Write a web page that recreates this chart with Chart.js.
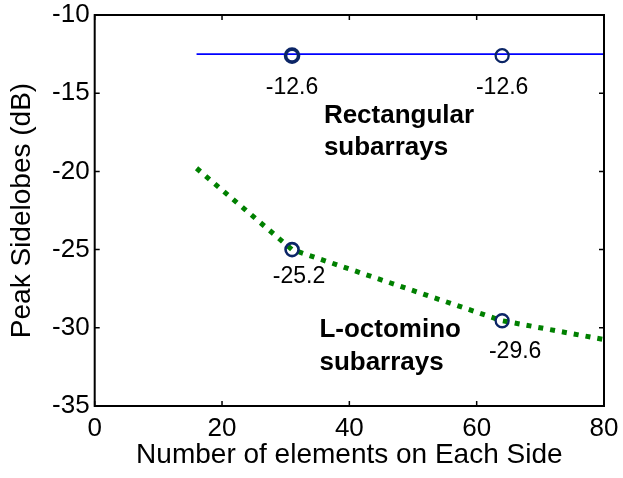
<!DOCTYPE html>
<html><head><meta charset="utf-8">
<script src="https://cdn.jsdelivr.net/npm/chart.js@4"></script>
<style>html,body{margin:0;padding:0;background:#fff}#wrap{width:623px;height:478px}</style>
</head><body><div id="wrap"><canvas id="c" width="623" height="478"></canvas></div>
<script>
// ---- data ----
const rectX = [16, 80];
const rectY = [-12.5, -12.5];
const lshapeX = [16, 31, 64, 80];
const lshapeY = [-19.8, -25.0, -29.55, -30.75];
const markerX = [31, 64, 31, 64];
const markerY = [-12.6, -12.6, -25.0, -29.55];
const markerLabels = ['-12.6', '-12.6', '-25.2', '-29.6'];
const xTicks = [0, 20, 40, 60, 80];
const yTicks = [-35, -30, -25, -20, -15, -10];
const noteText = [['Rectangular', 'subarrays'], ['L-octomino', 'subarrays']];
const noteX = [36.0, 35.3];
const noteY = [-16.9, -30.6];

const FAM = '"Liberation Sans", Arial, Helvetica, sans-serif';
// pixel offsets of the value labels (style)
const labelDX = [0, 0, 7, 13];
const labelDY = [38, 38, 33, 37];

const overlay = {
  id: 'overlay',
  afterDraw(chart) {
    const {ctx, chartArea: a, scales: {x, y}} = chart;
    ctx.save();
    // frame
    ctx.strokeStyle = '#000';
    ctx.lineWidth = 2;
    ctx.strokeRect(a.left, a.top, a.right - a.left, a.bottom - a.top);
    // inward ticks
    const tl = 5;
    ctx.lineWidth = 1.5;
    ctx.beginPath();
    xTicks.forEach(v => {
      const px = x.getPixelForValue(v);
      ctx.moveTo(px, a.bottom); ctx.lineTo(px, a.bottom - tl);
      ctx.moveTo(px, a.top); ctx.lineTo(px, a.top + tl);
    });
    yTicks.forEach(v => {
      const py = y.getPixelForValue(v);
      ctx.moveTo(a.left, py); ctx.lineTo(a.left + tl, py);
      ctx.moveTo(a.right, py); ctx.lineTo(a.right - tl, py);
    });
    ctx.stroke();
    // value labels
    ctx.fillStyle = '#000';
    ctx.font = '23px ' + FAM;
    ctx.textAlign = 'center';
    ctx.textBaseline = 'alphabetic';
    markerLabels.forEach((t, i) => {
      ctx.fillText(t, x.getPixelForValue(markerX[i]) + labelDX[i], y.getPixelForValue(markerY[i]) + labelDY[i]);
    });
    // bold notes
    ctx.font = 'bold 26px ' + FAM;
    ctx.textAlign = 'left';
    noteText.forEach((lines, i) => {
      const px = x.getPixelForValue(noteX[i]);
      const py = y.getPixelForValue(noteY[i]);
      lines.forEach((l, j) => ctx.fillText(l, px, py + j * 32.5));
    });
    ctx.restore();
  }
};

new Chart(document.getElementById('c'), {
  type: 'scatter',
  data: {
    datasets: [
      {
        data: rectX.map((v, i) => ({x: v, y: rectY[i]})),
        showLine: true, borderColor: '#0000ff', borderWidth: 1.6,
        pointRadius: 0, order: 3
      },
      {
        data: lshapeX.map((v, i) => ({x: v, y: lshapeY[i]})),
        showLine: true, borderColor: '#008000', borderWidth: 5,
        borderDash: [5, 7], borderCapStyle: 'butt',
        pointRadius: 0, order: 2
      },
      {
        data: markerX.map((v, i) => ({x: v, y: markerY[i]})),
        showLine: false, pointStyle: 'circle', pointRadius: 6.5,
        pointBorderWidth: [3.6, 2.3, 2.6, 2.3],
        pointBorderColor: '#0b2566', pointBackgroundColor: 'rgba(0,0,0,0)',
        order: 1
      }
    ]
  },
  options: {
    responsive: false, animation: false, devicePixelRatio: 1,
    layout: {padding: {top: 15, right: 19, left: 0, bottom: 0}},
    plugins: {legend: {display: false}, tooltip: {enabled: false}},
    scales: {
      x: {
        type: 'linear', min: 0, max: 80,
        afterBuildTicks: s => { s.ticks = xTicks.map(v => ({value: v})); },
        grid: {display: false, drawTicks: false}, border: {display: false},
        ticks: {font: {size: 26, family: FAM, lineHeight: 1.0}, color: '#000', padding: 10, maxRotation: 0},
        title: {display: true, text: 'Number of elements on Each Side', color: '#000',
                font: {size: 28, family: FAM}, padding: {top: 0, bottom: 6}},
        afterFit: s => { s.height = 72; s.paddingRight = 0; s.paddingLeft = 0; }
      },
      y: {
        type: 'linear', min: -35, max: -10,
        afterBuildTicks: s => { s.ticks = yTicks.map(v => ({value: v})); },
        grid: {display: false, drawTicks: false}, border: {display: false},
        ticks: {font: {size: 26, family: FAM, lineHeight: 1.0}, color: '#000', padding: 5},
        title: {display: true, text: 'Peak Sidelobes (dB)', color: '#000',
                font: {size: 28, family: FAM}, padding: {top: 5, bottom: 0}},
        afterFit: s => { s.width = 94.7; s.paddingTop = 0; s.paddingBottom = 0; }
      }
    }
  },
  plugins: [overlay]
});
</script>
</body></html>
